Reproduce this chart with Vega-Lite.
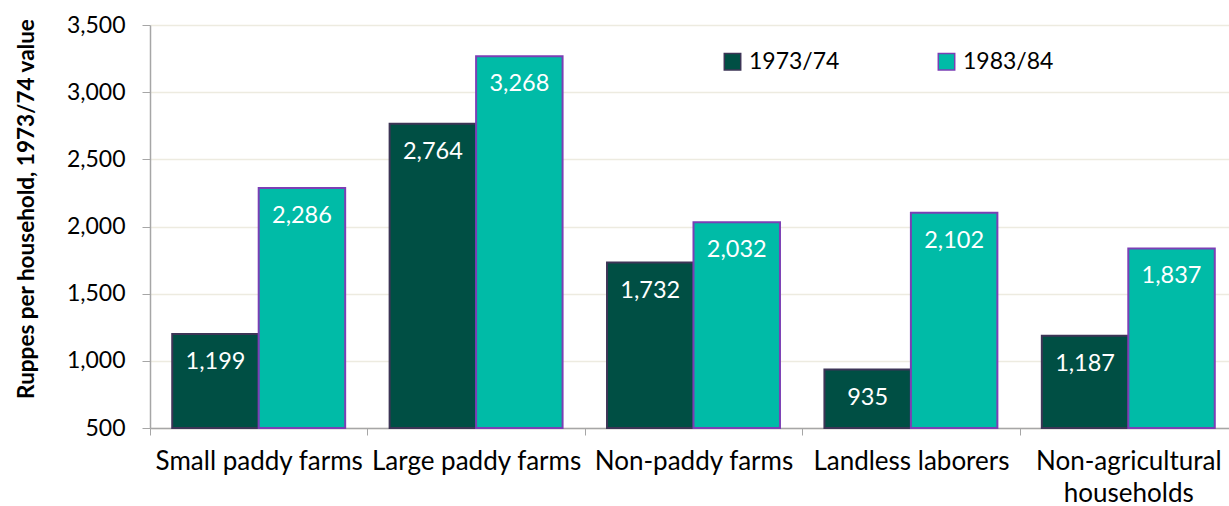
{
  "$schema": "https://vega.github.io/schema/vega-lite/v6.json",
  "width": 1079,
  "height": 403,
  "autosize": {"type": "none"},
  "padding": {"left": 150, "top": 25, "right": 0, "bottom": 78},
  "background": "white",
  "config": {
    "font": "Lato",
    "view": {"stroke": null}
  },
  "data": {
    "values": [
      {"group": "Small paddy farms", "year": "1973/74", "value": 1199},
      {"group": "Small paddy farms", "year": "1983/84", "value": 2286},
      {"group": "Large paddy farms", "year": "1973/74", "value": 2764},
      {"group": "Large paddy farms", "year": "1983/84", "value": 3268},
      {"group": "Non-paddy farms", "year": "1973/74", "value": 1732},
      {"group": "Non-paddy farms", "year": "1983/84", "value": 2032},
      {"group": "Landless laborers", "year": "1973/74", "value": 935},
      {"group": "Landless laborers", "year": "1983/84", "value": 2102},
      {"group": "Non-agricultural households", "year": "1973/74", "value": 1187},
      {"group": "Non-agricultural households", "year": "1983/84", "value": 1837}
    ]
  },
  "encoding": {
    "x": {
      "field": "group",
      "type": "nominal",
      "sort": null,
      "scale": {"paddingInner": 0, "paddingOuter": 0, "range": [0, 1087]},
      "axis": {
        "title": null,
        "labelAngle": 0,
        "labelFontSize": 26,
        "labelColor": "#000000",
        "labelPadding": 13,
        "labelLineHeight": 32,
        "labelLimit": 300,
        "labelExpr": "datum.label == 'Non-agricultural households' ? ['Non-agricultural', 'households'] : datum.label",
        "tickBand": "extent",
        "tickColor": "#A6A6A6",
        "tickSize": 7,
        "domainColor": "#A6A6A6",
        "domainWidth": 1.5,
        "grid": false
      }
    },
    "xOffset": {
      "field": "year",
      "type": "nominal",
      "scale": {"paddingInner": 0, "paddingOuter": 0.257}
    },
    "y": {
      "field": "value",
      "type": "quantitative",
      "scale": {"domain": [500, 3500], "nice": false, "zero": false},
      "axis": {
        "title": "Ruppes per household, 1973/74 value",
        "titleFontSize": 22.5,
        "titleFontWeight": "bold",
        "titleColor": "#000000",
        "titleX": -124,
        "titleY": 183.5,
        "titleAngle": -90,
        "titleAlign": "center",
        "titleBaseline": "middle",
        "values": [500, 1000, 1500, 2000, 2500, 3000, 3500],
        "labelExpr": "format(datum.value, ',')",
        "labelFontSize": 23,
        "labelColor": "#000000",
        "labelPadding": 17,
        "tickColor": "#A6A6A6",
        "tickSize": 8,
        "domainColor": "#A6A6A6",
        "domainWidth": 1.5,
        "gridColor": "#EDEBE0",
        "gridWidth": 1.5
      }
    }
  },
  "layer": [
    {
      "mark": {"type": "bar", "strokeWidth": 2},
      "encoding": {
        "y2": {"datum": 500},
        "color": {
          "field": "year",
          "type": "nominal",
          "scale": {"domain": ["1973/74", "1983/84"], "range": ["#004F44", "#00BBA7"]},
          "legend": {
            "title": null,
            "orient": "none",
            "legendX": 571,
            "legendY": 25,
            "direction": "horizontal",
            "symbolType": "square",
            "symbolSize": 270,
            "symbolStrokeWidth": 1.5,
            "labelFontSize": 23,
            "labelColor": "#000000",
            "labelOffset": 5,
            "columnPadding": 95
          }
        },
        "stroke": {
          "field": "year",
          "type": "nominal",
          "scale": {"domain": ["1973/74", "1983/84"], "range": ["#3D3556", "#7B3FB5"]},
          "legend": null
        }
      }
    },
    {
      "mark": {"type": "text", "color": "white", "fontSize": 23.5, "baseline": "middle", "dy": 28},
      "encoding": {
        "text": {"field": "value", "type": "quantitative", "format": ","}
      }
    }
  ]
}
